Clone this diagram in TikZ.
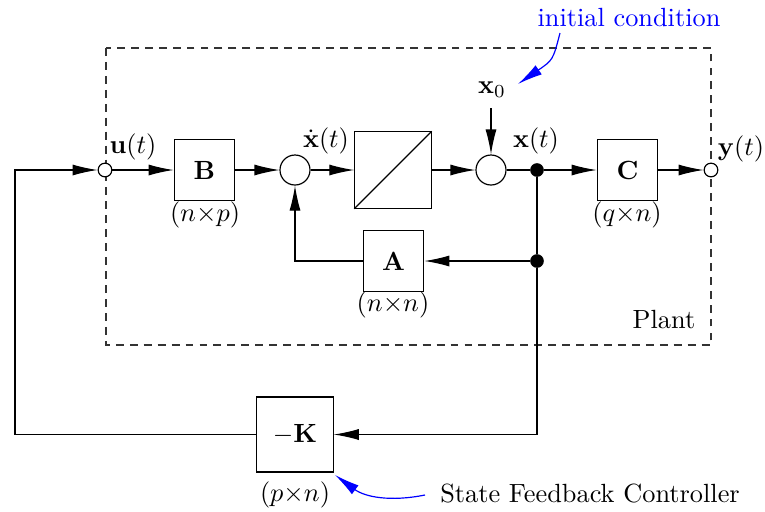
\documentclass[tikz,border=0pt]{standalone}
\usetikzlibrary{arrows.meta}
\begin{document}
\begin{tikzpicture}[x=0.38pt,y=-0.38pt,line width=0.45pt,
  blk/.style={draw,minimum width=23pt,minimum height=23pt,inner sep=0pt,fill=white},
  sumc/.style={draw,circle,minimum size=11.4pt,inner sep=0pt,fill=white},
  port/.style={draw,circle,minimum size=5.2pt,inner sep=0pt,fill=white},
  jdot/.style={circle,fill=black,minimum size=5.2pt,inner sep=0pt},
  arr/.style={-{Latex[length=9.5pt,width=4.2pt]}},
  barr/.style={blue,-{Latex[length=9.5pt,width=4.2pt]}},
  lbl/.style={inner sep=0pt}]
\useasboundingbox (0,0) rectangle (765,511);
% plant boundary
\draw[line width=0.4pt,black!80,dash pattern=on 3pt off 2.3pt] (106,48) rectangle (711,345);
\node[lbl] (plant) at (664,320) {Plant};
% nodes
\node[port] (u) at (105,170) {};
\node[blk] (B) at (204.5,170) {$\mathbf{B}$};
\node[sumc] (s1) at (295,170) {};
\node[blk,minimum width=29pt,minimum height=29pt] (I) at (393,170) {};
\draw (I.south west) -- (I.north east);
\node[sumc] (s2) at (491,170) {};
\node[jdot] (d1) at (537,170) {};
\node[blk] (C) at (627.5,170) {$\mathbf{C}$};
\node[port] (y) at (711,170) {};
\node[blk] (A) at (393.5,261) {$\mathbf{A}$};
\node[jdot] (d2) at (537,261) {};
\node[blk,minimum width=29pt,minimum height=28.5pt] (K) at (295,434.5) {$-\mathbf{K}$};
\coordinate (kr) at (537,434.5);
\coordinate (kl) at (15,434.5);
% labels
\node[lbl] (ul) at (133,147) {$\mathbf{u}(t)$};
\node[lbl] (xdl) at (326,141) {$\dot{\mathbf{x}}(t)$};
\node[lbl] (xl) at (536,141) {$\mathbf{x}(t)$};
\node[lbl] (yl) at (741,149) {$\mathbf{y}(t)$};
\node[lbl] (x0) at (492,90) {$\mathbf{x}_0$};
\node[lbl] (Bd) at (205,215) {$(n{\times}p)$};
\node[lbl] (Cd) at (627,215) {$(q{\times}n)$};
\node[lbl] (Ad) at (393,305) {$(n{\times}n)$};
\node[lbl] (Kd) at (295,495) {$(p{\times}n)$};
\node[lbl,blue] (ic) at (629,18) {initial condition};
\node[lbl] (sfc) at (590,494) {State Feedback Controller};
% connectors
\draw[arr] (K.west) -- (kl) |- (u.west);
\draw[arr] (u) -- (B);
\draw[arr] (B) -- (s1);
\draw[arr] (s1) -- (I);
\draw[arr] (I) -- (s2);
\draw (s2) -- (d1);
\draw[arr] (d1) -- (C);
\draw[arr] (C) -- (y);
\draw (d1) -- (d2) -- (kr);
\draw[arr] (kr) -- (K.east);
\draw[arr] (d2) -- (A.east);
\draw[arr] (A.west) -| (s1.south);
\coordinate (x0b) at (491,108);
\draw[arr] (x0b) -- (s2.north);
% annotation arrows
\coordinate (ics) at (560,33);
\coordinate (ice) at (518,84);
\draw[barr] (ics) .. controls (553,60) .. (ice);
\coordinate (sfcs) at (425,495);
\coordinate (sfce) at (335,475);
\draw[barr] (sfcs) .. controls (390,502) and (365,497) .. (sfce);
\end{tikzpicture}
\end{document}
